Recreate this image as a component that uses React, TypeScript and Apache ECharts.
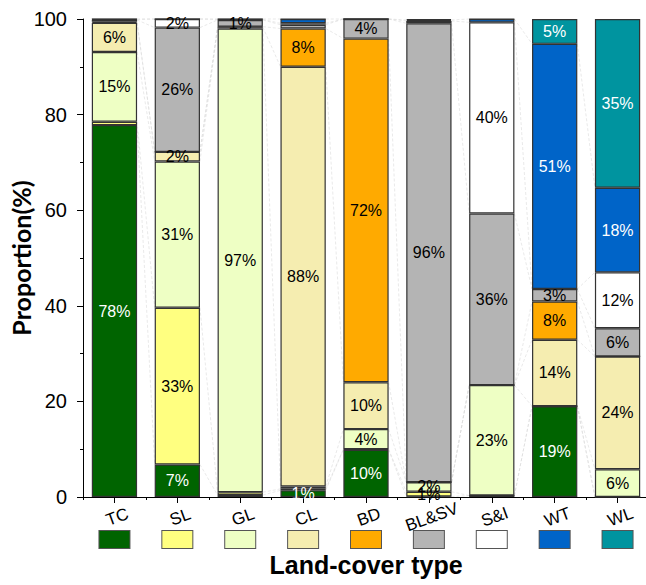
import React, { useEffect, useRef } from "react";
import * as echarts from "echarts";

const categories = ["TC", "SL", "GL", "CL", "BD", "BL&SV", "S&I", "WT", "WL"];
const classColors = ["#006400", "#FFFF80", "#EEFFC4", "#F5EDB0", "#FFAA00", "#B4B4B4", "#FFFFFF", "#0064C8", "#00949F"];
const labelColors = ["#ffffff", "#000", "#000", "#000", "#000", "#000", "#000", "#ffffff", "#ffffff"];

// Each row: one bar (from-class); columns: share (%) going to TC, SL, GL, CL, BD, BL&SV, S&I, WT, WL
const tcRow = [77.8, 0.7, 14.6, 6.1, 0.2, 0.4, 0.1, 0.1, 0];
const slRow = [6.8, 32.8, 30.6, 2.0, 0, 26.0, 1.8, 0, 0];
const glRow = [0.4, 0.6, 97.0, 0.3, 0.1, 1.4, 0.1, 0.1, 0];
const clRow = [1.4, 0.3, 0.5, 87.8, 8.0, 0.8, 0.3, 0.9, 0];
const bdRow = [9.9, 0.1, 4.2, 9.8, 71.9, 4.1, 0, 0, 0];
const blsvRow = [0.1, 1.0, 2.0, 0, 0, 96.0, 0.5, 0.2, 0.2];
const siRow = [0.3, 0, 23.1, 0, 0, 35.9, 40.0, 0.7, 0];
const wtRow = [19.0, 0, 0, 13.9, 8.0, 2.6, 0, 51.3, 5.2];
const wlRow = [0, 0, 5.8, 23.6, 0, 5.9, 11.7, 17.7, 35.3];

const rows = [tcRow, slRow, glRow, clRow, bdRow, blsvRow, siRow, wtRow, wlRow];
const yTicks = [0, 20, 40, 60, 80, 100];

const BAR_RATIO = 0.72;

export default function App() {
  const ref = useRef<HTMLDivElement>(null);
  useEffect(() => {
    if (!ref.current) return;
    const chart = echarts.init(ref.current, undefined, { renderer: "svg" });
    const font = "'Liberation Sans', Arial, sans-serif";

    const cums = rows.map((r) => {
      const c = [0];
      r.forEach((v) => c.push(c[c.length - 1] + v));
      return c;
    });

    const barSeries = categories.map((name, k) => ({
      type: "bar",
      name,
      stack: "all",
      barWidth: BAR_RATIO * 100 + "%",
      data: rows.map((r) => r[k]),
      itemStyle: { color: classColors[k], borderColor: "#333", borderWidth: 1.2 },
      label: {
        show: true,
        position: "inside",
        color: labelColors[k],
        fontFamily: font,
        fontSize: 16,
        formatter: (p: any) => (p.value >= 1 ? Math.round(p.value) + "%" : ""),
      },
      z: 3,
    }));

    const linkSeries = {
      type: "custom",
      data: categories.slice(0, categories.length - 1).map((_, i) => [i, 0]),
      z: 1,
      silent: true,
      renderItem: (params: any, api: any) => {
        const i = api.value(0);
        const bw = api.size([1, 0])[0] * BAR_RATIO;
        const children: any[] = [];
        for (let k = 1; k < categories.length; k++) {
          const a = api.coord([i, cums[i][k]]);
          const b = api.coord([i + 1, cums[i + 1][k]]);
          children.push({
            type: "line",
            shape: { x1: a[0] + bw / 2, y1: a[1], x2: b[0] - bw / 2, y2: b[1] },
            style: { stroke: "#dadada", lineWidth: 0.6, lineDash: [3, 2] },
          });
        }
        return { type: "group", children };
      },
    };

    const rich: any = {};
    classColors.forEach((c, i) => {
      rich["c" + i] = {
        width: 30,
        height: 17,
        backgroundColor: c,
        borderColor: "#555",
        borderWidth: 1,
        fontSize: 1,
      };
    });

    chart.setOption({
      animation: false,
      backgroundColor: "#ffffff",
      grid: { left: 83, right: -3, top: 19, bottom: 88, outerBoundsMode: "none", containLabel: false },
      xAxis: [
        {
          type: "category",
          data: categories,
          position: "bottom",
          axisLine: { show: true, lineStyle: { color: "#000", width: 1 } },
          axisTick: { show: true, alignWithLabel: true, length: 6, lineStyle: { color: "#000" } },
          axisLabel: {
            rotate: 20,
            align: "center",
            verticalAlign: "top",
            margin: 12,
            color: "#000",
            fontFamily: font,
            fontSize: 17,
            interval: 0,
          },
          name: "Land-cover type",
          nameLocation: "middle",
          nameGap: 55,
          nameMoveOverlap: false,
          nameTextStyle: { fontFamily: font, fontSize: 25, fontWeight: "bold", color: "#000" },
        },
        {
          type: "category",
          data: categories,
          position: "bottom",
          gridIndex: 0,
          axisLine: { show: false },
          axisTick: { show: true, alignWithLabel: false, length: 3, lineStyle: { color: "#000" } },
          axisLabel: {
            interval: 0,
            margin: 34,
            verticalAlign: "top",
            formatter: (_v: string, i: number) => "{c" + i + "| }",
            rich,
          },
        },
      ],
      yAxis: {
        type: "value",
        min: yTicks[0],
        max: yTicks[yTicks.length - 1],
        interval: 20,
        axisLine: { show: true, lineStyle: { color: "#000", width: 1 } },
        axisTick: { show: true, length: 6, lineStyle: { color: "#000" } },
        minorTick: { show: true, splitNumber: 2, length: 3, lineStyle: { color: "#000" } },
        splitLine: { show: false },
        axisLabel: { color: "#000", fontFamily: font, fontSize: 20, margin: 16 },
        name: "Proportion(%)",
        nameLocation: "middle",
        nameGap: 50,
        nameMoveOverlap: false,
        nameTextStyle: { fontFamily: "Lato, 'Liberation Sans', sans-serif", fontSize: 25, fontWeight: "bold", color: "#000" },
      },
      series: [linkSeries, ...barSeries],
    });
    return () => chart.dispose();
  }, []);
  return (
    <div
      ref={ref}
      style={{ position: "fixed", left: 0, top: 0, width: 646, height: 585, background: "#fff" }}
    />
  );
}
